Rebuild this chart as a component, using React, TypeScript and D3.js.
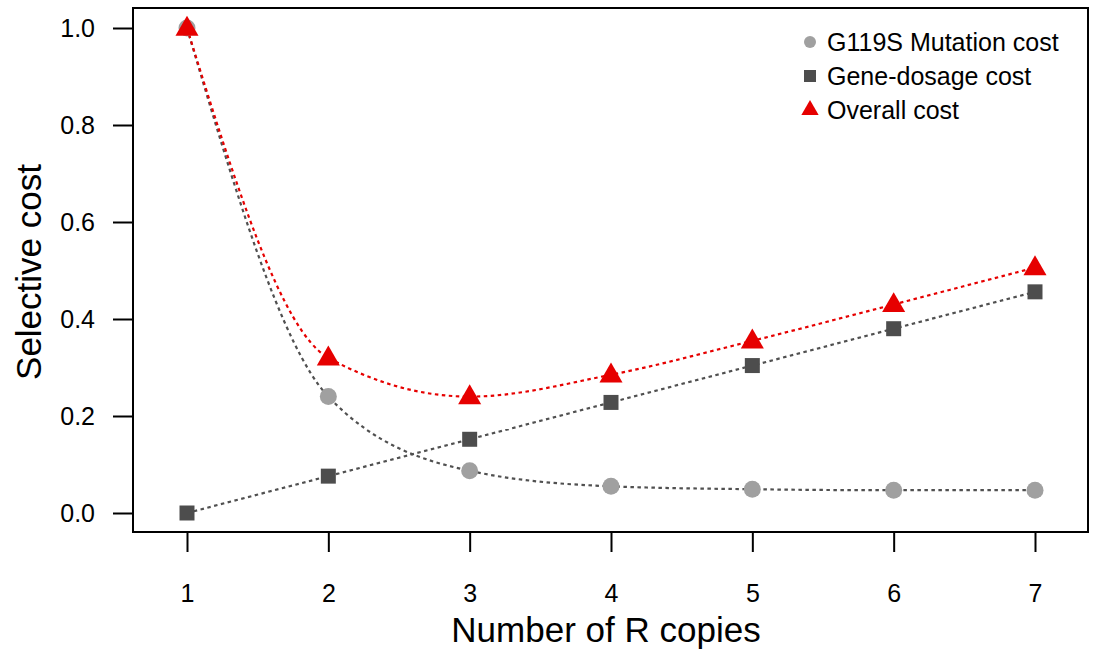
import * as d3 from 'd3';
import React, { useEffect, useRef } from 'react';

const copies = [1, 2, 3, 4, 5, 6, 7];
const mutationCost = [1.0, 0.24, 0.087, 0.055, 0.049, 0.047, 0.047];
const dosageCost = [0.0, 0.076, 0.152, 0.228, 0.304, 0.38, 0.456];
const overallCost = [1.0, 0.32, 0.24, 0.285, 0.355, 0.43, 0.506];
const yTicks = [0, 0.2, 0.4, 0.6, 0.8, 1.0];
const legendLabels = ['G119S Mutation cost', 'Gene-dosage cost', 'Overall cost'];

const W = 1094;
const H = 649;
const FONT = '"Liberation Sans", Arial, sans-serif';

const App = () => {
  const ref = useRef<SVGSVGElement>(null);

  useEffect(() => {
    const svg = d3.select(ref.current);
    svg.selectAll('*').remove();

    const box = { left: 133, right: 1088, top: 8, bottom: 532 };

    const x = d3.scaleLinear().domain([1, 7]).range([187, 1035]);
    const y = d3.scaleLinear().domain([0, 1]).range([513, 28]);

    // frame
    svg.append('rect')
      .attr('x', box.left)
      .attr('y', box.top)
      .attr('width', box.right - box.left)
      .attr('height', box.bottom - box.top)
      .attr('fill', 'none')
      .attr('stroke', '#000')
      .attr('stroke-width', 2);

    // axes
    const xAxis = d3.axisBottom(x).tickValues(copies).tickFormat(d3.format('d'))
      .tickSize(20);
    const gx = svg.append('g')
      .attr('transform', `translate(0,${box.bottom})`)
      .call(xAxis);
    gx.select('.domain').remove();
    gx.selectAll('line').attr('stroke-width', 2).attr('stroke', '#000');
    gx.selectAll('text')
      .attr('y', 70)
      .attr('dy', 0)
      .attr('font-size', 25)
      .attr('font-family', FONT)
      .attr('fill', '#000');

    const yAxis = d3.axisLeft(y).tickValues(yTicks).tickFormat(d3.format('.1f'))
      .tickSize(20).tickPadding(18);
    const gy = svg.append('g')
      .attr('transform', `translate(${box.left},0)`)
      .call(yAxis);
    gy.select('.domain').remove();
    gy.selectAll('line').attr('stroke-width', 2).attr('stroke', '#000');
    gy.selectAll('text').attr('font-size', 25).attr('font-family', FONT).attr('fill', '#000');

    // axis titles
    svg.append('text')
      .attr('x', 606)
      .attr('y', 642)
      .attr('text-anchor', 'middle')
      .attr('font-size', 35)
      .attr('font-family', FONT)
      .text('Number of R copies');

    svg.append('text')
      .attr('transform', `translate(41,272) rotate(-90)`)
      .attr('text-anchor', 'middle')
      .attr('font-size', 35)
      .attr('font-family', FONT)
      .text('Selective cost');

    const line = d3.line<number>()
      .x((d, i) => x(copies[i]))
      .y(d => y(d))
      .curve(d3.curveMonotoneX);

    const series = [
      { values: mutationCost, stroke: '#505050' },
      { values: dosageCost, stroke: '#505050' },
      { values: overallCost, stroke: '#e60000' },
    ];

    series.forEach(s => {
      svg.append('path')
        .datum(s.values)
        .attr('d', line)
        .attr('fill', 'none')
        .attr('stroke', s.stroke)
        .attr('stroke-width', 2.2)
        .attr('stroke-dasharray', '3.5,3.5');
    });

    const circle = d3.symbol().type(d3.symbolCircle).size(Math.PI * 8.5 * 8.5);
    const square = d3.symbol().type(d3.symbolSquare).size(15 * 15);
    const triangle = d3.symbol().type(d3.symbolTriangle).size(230);

    svg.selectAll('.mut')
      .data(mutationCost)
      .enter()
      .append('path')
      .attr('d', circle)
      .attr('transform', (d, i) => `translate(${x(copies[i])},${y(d)})`)
      .attr('fill', '#a0a0a0');

    svg.selectAll('.dos')
      .data(dosageCost)
      .enter()
      .append('path')
      .attr('d', square)
      .attr('transform', (d, i) => `translate(${x(copies[i])},${y(d)})`)
      .attr('fill', '#4d4d4d');

    svg.selectAll('.all')
      .data(overallCost)
      .enter()
      .append('path')
      .attr('d', triangle)
      .attr('transform', (d, i) => `translate(${x(copies[i])},${y(d) + 1})`)
      .attr('fill', '#e60000');

    // legend
    const legendShapes = [
      { d: d3.symbol().type(d3.symbolCircle).size(Math.PI * 6 * 6)(), fill: '#a0a0a0' },
      { d: d3.symbol().type(d3.symbolSquare).size(12 * 12)(), fill: '#4d4d4d' },
      { d: d3.symbol().type(d3.symbolTriangle).size(130)(), fill: '#e60000' },
    ];
    const lg = svg.append('g');
    legendLabels.forEach((label, i) => {
      const ly = 42 + i * 34;
      lg.append('path')
        .attr('d', legendShapes[i].d)
        .attr('transform', `translate(810,${ly})`)
        .attr('fill', legendShapes[i].fill);
      lg.append('text')
        .attr('x', 827)
        .attr('y', ly)
        .attr('dy', '0.36em')
        .attr('font-size', 25)
        .attr('font-family', FONT)
        .text(label);
    });
  }, []);

  return (
    <div style={{ position: 'absolute', left: 0, top: 0 }}>
      <svg ref={ref} width={W} height={H} style={{ display: 'block', background: '#fff' }}></svg>
    </div>
  );
};

export default App;
